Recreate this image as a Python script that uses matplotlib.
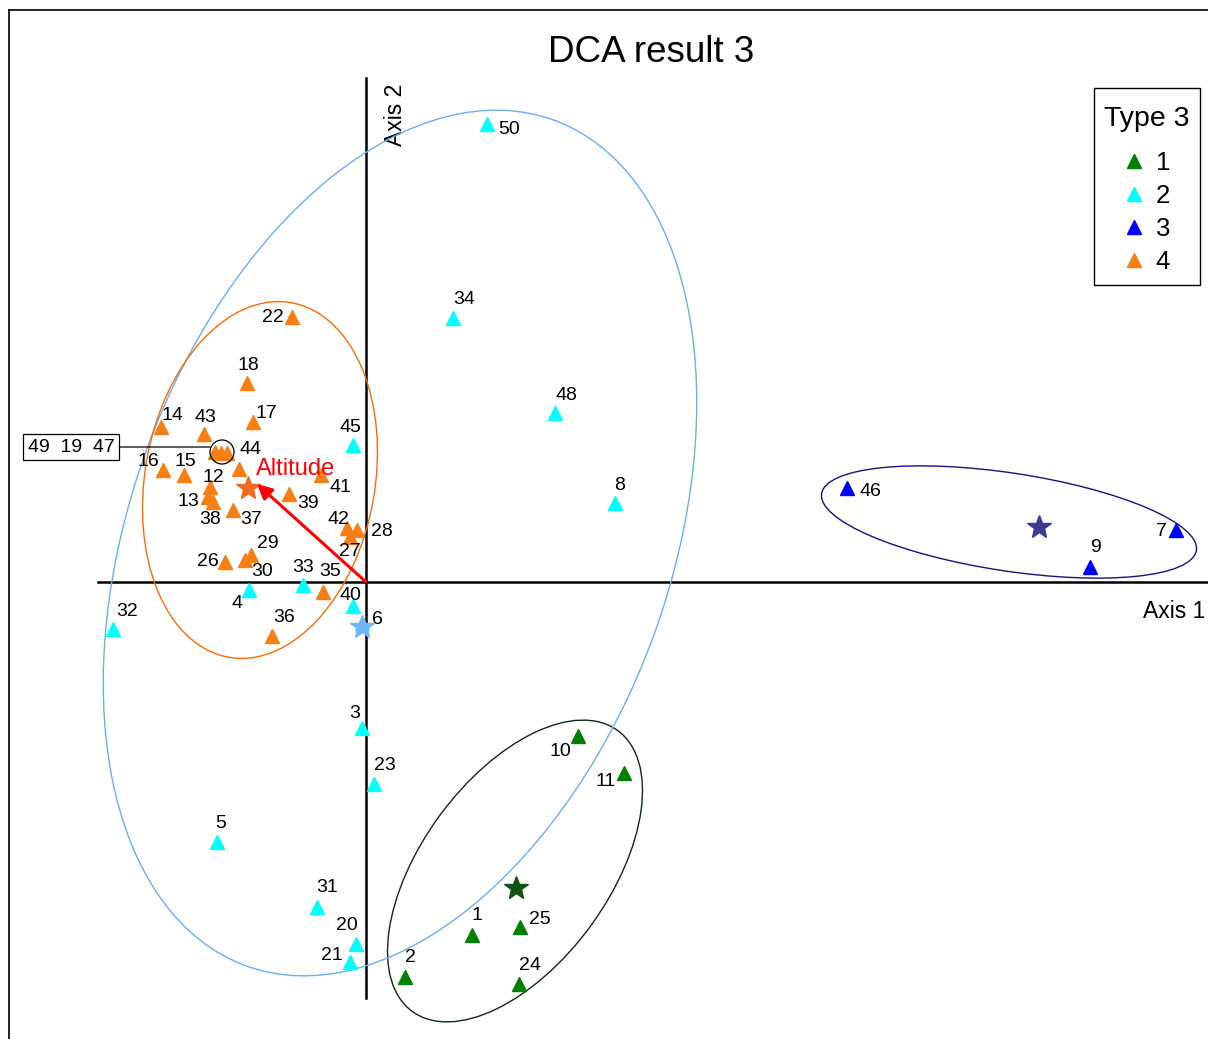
import matplotlib
matplotlib.use("Agg")
import matplotlib.pyplot as plt
from matplotlib.patches import Ellipse, Circle, Rectangle
from matplotlib.lines import Line2D

plt.rcParams['font.family'] = ['Liberation Sans', 'DejaVu Sans']

# DCA site scores (axis 1, axis 2) by group
type1_ids = ["1", "2", "10", "11", "24", "25"]
type1_x = [1.06, 0.39, 2.12, 2.58, 1.53, 1.54]
type1_y = [-3.53, -3.95, -1.54, -1.91, -4.02, -3.45]

type2_ids = ["3", "4", "5", "6", "8", "20", "21", "23", "31", "32", "33", "34", "40", "45", "48", "50"]
type2_x = [-0.04, -1.17, -1.49, -0.04, 2.49, -0.10, -0.16, 0.08, -0.49, -2.53, -0.63, 0.87, -0.13, -0.13, 1.89, 1.21]
type2_y = [-1.46, -0.08, -2.60, -0.41, 0.79, -3.62, -3.80, -2.02, -3.25, -0.47, -0.03, 2.64, -0.24, 1.37, 1.69, 4.58]

type3_ids = ["7", "9", "46"]
type3_x = [8.10, 7.24, 4.81]
type3_y = [0.52, 0.15, 0.94]

type4_ids = ["12", "13", "14", "15", "16", "17", "18", "19", "22", "26", "27", "28", "29", "30",
             "35", "36", "37", "38", "39", "41", "42", "43", "44", "47", "49"]
type4_x = [-1.56, -1.58, -2.05, -1.82, -2.03, -1.13, -1.19, -1.45, -0.74, -1.41, -0.16, -0.09, -1.15, -1.21,
           -0.43, -0.94, -1.33, -1.53, -0.77, -0.45, -0.19, -1.62, -1.27, -1.39, -1.51]
type4_y = [0.95, 0.85, 1.55, 1.07, 1.12, 1.60, 1.99, 1.29, 2.65, 0.20, 0.45, 0.52, 0.27, 0.22,
           -0.10, -0.54, 0.72, 0.80, 0.88, 1.07, 0.54, 1.48, 1.13, 1.29, 1.30]

# group centroids
centroid_x = [1.50, -0.04, 6.73, -1.18]
centroid_y = [-3.06, -0.45, 0.55, 0.94]

# environmental vector
altitude_xy = (-1.09, 0.98)

type_names = ["1", "2", "3", "4"]
marker_colors = ["#008000", "#00FFFF", "#0000FF", "#F77F14"]
star_colors = ["#0E5410", "#72B6F7", "#3D3A96", "#F26A1B"]
ellipse_colors = ["#0F2A0F", "#6AAEF5", "#14147A", "#FF6A00"]

# (center x, center y, width, height, angle) of group ellipses
ellipses = [
    (1.49, -2.89, 3.48, 1.87, 53.8),
    (0.34, 0.39, 9.0, 5.4, 70.0),
    (6.43, 0.60, 3.79, 0.98, -8.6),
    (-1.06, 1.02, 3.6, 2.3, 80.0),
]

# label offsets in pixels (dx, dy) from each point
label_offsets = {
    "1": (5, 20), "2": (5, 19), "10": (-18, -16), "11": (-18, -8), "24": (11, 19), "25": (20, 8),
    "3": (-7, 15), "4": (-12, -14), "5": (4, 19), "6": (15, 4), "8": (5, 18), "20": (-9, 18),
    "21": (-18, 7), "23": (11, 19), "31": (10, 19), "32": (14, 17), "33": (0, 18), "34": (11, 19),
    "40": (-3, 10), "45": (-3, 18), "48": (11, 18), "50": (22, -6),
    "7": (-15, -1), "9": (5, 20), "46": (23, -3),
    "12": (3, 10), "13": (-20, -5), "14": (11, 12), "15": (1, 14), "16": (-15, 8), "17": (13, 8),
    "18": (1, 17), "22": (-19, -1), "26": (-17, 1), "27": (0, -14), "28": (25, -2), "29": (17, 12),
    "30": (17, -12), "35": (7, 20), "36": (12, 18), "37": (18, -9), "38": (-3, -17), "39": (19, -9),
    "41": (19, -12), "42": (-9, 9), "43": (1, 16), "44": (11, 19),
}

W, H = 1208, 1039
fig = plt.figure(figsize=(W / 100, H / 100), dpi=100)
ax = fig.add_axes([0, 0, 1, 1])
ax.set_xlim(-3.66, 8.42)
ax.set_ylim(-4.57, 5.82)
ax.axis("off")

# outer frame (left and top edges)
fig.add_artist(Line2D([9 / W, 9 / W], [0, 1 - 10 / H], color="black", lw=1.2))
fig.add_artist(Line2D([9 / W, 1], [1 - 10 / H, 1 - 10 / H], color="black", lw=1.2))

# ordination axes
ax.plot([-2.68, 8.42], [0, 0], color="black", lw=1.8, zorder=2)
ax.plot([0, 0], [-4.16, 5.04], color="black", lw=1.8, zorder=2)
ax.text(8.39, -0.30, "Axis 1", fontsize=16.5, ha="right", va="center")
ax.text(0.29, 4.67, "Axis 2", fontsize=16.5, rotation=90, ha="center", va="center")

for (cx, cy, w, h, ang), col in zip(ellipses, ellipse_colors):
    ax.add_patch(Ellipse((cx, cy), w, h, angle=ang, fill=False, ec=col, lw=1.0, zorder=3))

groups = [(type1_ids, type1_x, type1_y), (type2_ids, type2_x, type2_y),
          (type3_ids, type3_x, type3_y), (type4_ids, type4_x, type4_y)]
for (ids, xs, ys), col in zip(groups, marker_colors):
    ax.plot(xs, ys, ls="none", marker="^", ms=10, color=col, mec=col, zorder=5)
    for sid, x, y in zip(ids, xs, ys):
        if sid in label_offsets:
            ax.annotate(sid, (x, y), xytext=label_offsets[sid], textcoords="offset pixels",
                        ha="center", va="center", fontsize=14, zorder=6)

for x, y, col in zip(centroid_x, centroid_y, star_colors):
    ax.plot([x], [y], ls="none", marker="*", ms=18, color=col, mec=col, zorder=7)

# altitude vector
ax.annotate("", xy=altitude_xy, xytext=(0, 0),
            arrowprops=dict(arrowstyle="-|>", color="#FF0000", lw=2.2, mutation_scale=22,
                            shrinkA=0, shrinkB=0), zorder=8)
ax.text(-0.70, 1.13, "Altitude", color="#FF0000", fontsize=17, ha="center", va="center", zorder=8)

# overlapping sites 49, 19, 47
ax.add_patch(Circle((-1.44, 1.30), 0.12, fill=False, ec="black", lw=0.9, zorder=6))
ax.annotate("49  19  47", xy=(-1.56, 1.35), xytext=(-2.95, 1.35), fontsize=14,
            ha="center", va="center",
            bbox=dict(boxstyle="square,pad=0.25", fc="white", ec="black", lw=0.9),
            arrowprops=dict(arrowstyle="-", color="black", lw=0.9, shrinkA=0, shrinkB=0),
            zorder=6)

fig.text(651 / W, 1 - 53 / H, "DCA result 3", fontsize=26.5, ha="center", va="center")

# legend: frameless contents inside a separately drawn box
fig.add_artist(Rectangle((1094 / W, 1 - 285 / H), 106 / W, 197 / H, transform=fig.transFigure,
                         fill=False, ec="black", lw=1.0))
handles = [Line2D([], [], ls="none", marker="^", ms=10, color=c, mec=c) for c in marker_colors]
leg = ax.legend(handles, type_names, title="Type 3", loc="upper left",
                bbox_to_anchor=(1095 / W, 1 - 97 / H), bbox_transform=fig.transFigure,
                borderaxespad=0, fontsize=18.5, title_fontsize=20.5, frameon=False,
                handlelength=0.8, handletextpad=0.45, labelspacing=0.35, borderpad=0.35)
# wider gap between the legend title and its entries
leg._legend_box.sep = 14

fig.savefig("out.png", dpi=100)
